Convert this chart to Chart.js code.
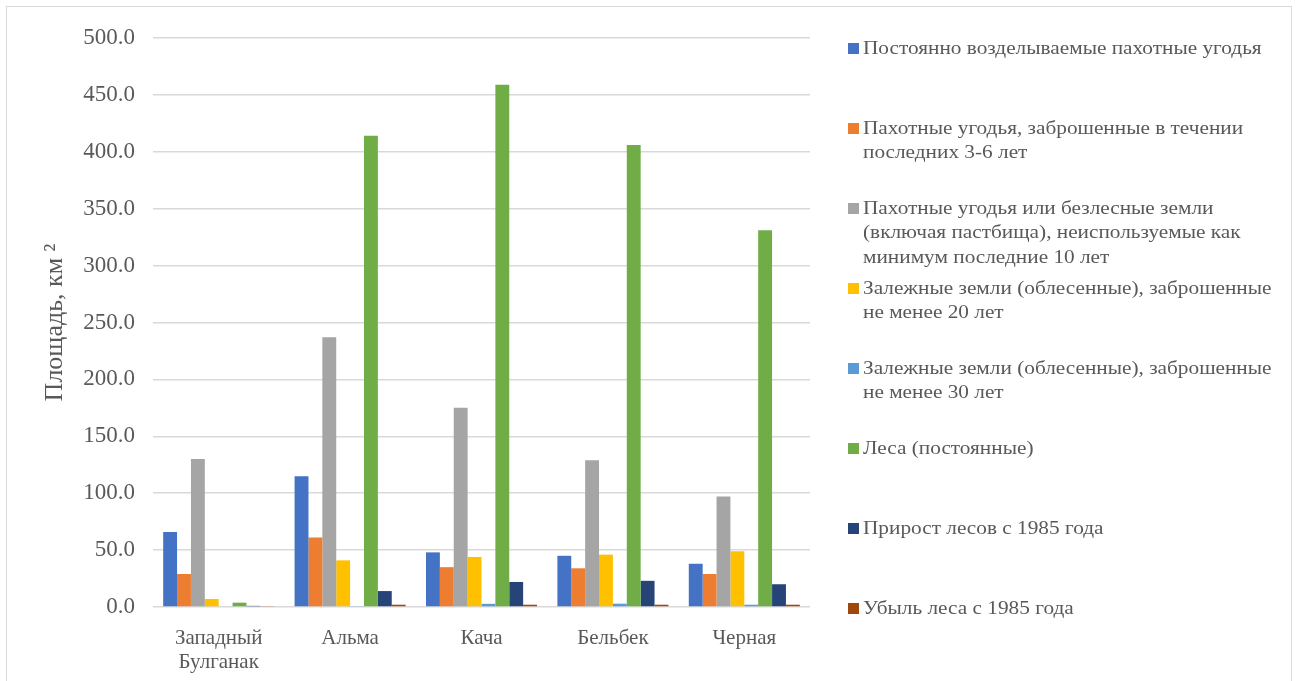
<!DOCTYPE html>
<html>
<head>
<meta charset="utf-8">
<script src="https://cdn.jsdelivr.net/npm/chart.js@4"></script>
<style>
  html, body { margin: 0; padding: 0; background: #fff; }
  #wrap { position: relative; width: 1298px; height: 681px; overflow: hidden; background: #fff; }
  #frame { position: absolute; left: 6px; top: 6px; width: 1286px; height: 700px; border: 1.5px solid #d9d9d9; box-sizing: border-box; }
  #c { position: absolute; left: 0; top: 0; }
  #legend { position: absolute; left: 0; top: 0; font-family: 'Liberation Serif', 'Times New Roman', serif; font-size: 19px; color: #595959; }
  .item { position: absolute; left: 848px; white-space: nowrap; line-height: 24.5px; }
  .sw { position: absolute; left: 0; top: 7px; width: 11px; height: 11px; }
  .tx { position: absolute; left: 15px; top: 0; transform: scaleX(1.12); transform-origin: 0 0; }
</style>
</head>
<body>
<div id="wrap">
  <div id="frame"></div>
  <canvas id="c" width="1298" height="681"></canvas>
  <div id="legend"></div>
</div>
<script>
const categories = [["Западный", "Булганак"], "Альма", "Кача", "Бельбек", "Черная"];

const seriesLabels = [
  ["Постоянно возделываемые пахотные угодья"],
  ["Пахотные угодья, заброшенные в течении", "последних 3-6 лет"],
  ["Пахотные угодья или безлесные земли", "(включая пастбища), неиспользуемые как", "минимум последние 10 лет"],
  ["Залежные земли (облесенные), заброшенные", "не менее 20 лет"],
  ["Залежные земли (облесенные), заброшенные", "не менее 30 лет"],
  ["Леса (постоянные)"],
  ["Прирост лесов с 1985 года"],
  ["Убыль леса с 1985 года"]
];

const cultivated   = [66, 115, 48, 45, 38];
const abandoned3_6 = [29, 61, 35, 34, 29];
const unused10     = [130, 237, 175, 129, 97];
const fallow20     = [7, 41, 44, 46, 49];
const fallow30     = [0, 0.8, 2.8, 2.9, 2.0];
const forests      = [3.8, 414, 459, 406, 331];
const forestGain   = [1.0, 14, 22, 23, 20];
const forestLoss   = [0.5, 2, 2, 2, 2];

const yTicks = [0, 50, 100, 150, 200, 250, 300, 350, 400, 450, 500];
const yTitle = "Площадь, км ²";

const seriesValues = [cultivated, abandoned3_6, unused10, fallow20, fallow30, forests, forestGain, forestLoss];
const seriesColors = ["#4472C4", "#ED7D31", "#A5A5A5", "#FFC000", "#5B9BD5", "#70AD47", "#264478", "#9E480E"];

const FONT = "'Liberation Serif', 'Times New Roman', serif";
const GREY = "#595959";

const datasets = seriesValues.map((vals, i) => ({
  label: seriesLabels[i].join(" "),
  data: vals,
  backgroundColor: seriesColors[i],
  borderWidth: 0,
  barPercentage: 1.0,
  categoryPercentage: 0.845
}));

new Chart(document.getElementById("c"), {
  type: "bar",
  data: { labels: categories, datasets },
  options: {
    responsive: false,
    animation: false,
    devicePixelRatio: 1,
    layout: { padding: { left: 0, right: 488, top: 38, bottom: 0 } },
    plugins: { legend: { display: false }, tooltip: { enabled: false } },
    scales: {
      x: {
        grid: { display: false },
        border: { display: false },
        ticks: { color: GREY, font: { family: FONT, size: 21, lineHeight: 1.15 }, padding: 11, maxRotation: 0, autoSkip: false },
        afterFit(scale) { scale.height = 74; }
      },
      y: {
        min: 0, max: 500,
        afterBuildTicks(scale) { scale.ticks = yTicks.map(v => ({ value: v })); },
        grid: { color: "#d9d9d9", lineWidth: 1.5, drawTicks: false },
        border: { display: false },
        ticks: { color: GREY, font: { family: FONT, size: 23 }, padding: 18, callback: v => Number(v).toFixed(1) },
        title: { display: true, text: yTitle, color: GREY, font: { family: FONT, size: 26 }, padding: { top: 40, bottom: 0 } },
        afterFit(scale) { scale.width = 153; }
      }
    }
  }
});

const legend = document.getElementById("legend");
seriesLabels.forEach((lines, i) => {
  const item = document.createElement("div");
  item.className = "item";
  item.style.top = (48 + 80 * i - 12.25) + "px";
  const sw = document.createElement("div");
  sw.className = "sw";
  sw.style.background = seriesColors[i];
  const tx = document.createElement("div");
  tx.className = "tx";
  tx.innerHTML = lines.join("<br>");
  item.appendChild(sw);
  item.appendChild(tx);
  legend.appendChild(item);
});
</script>
</body>
</html>
